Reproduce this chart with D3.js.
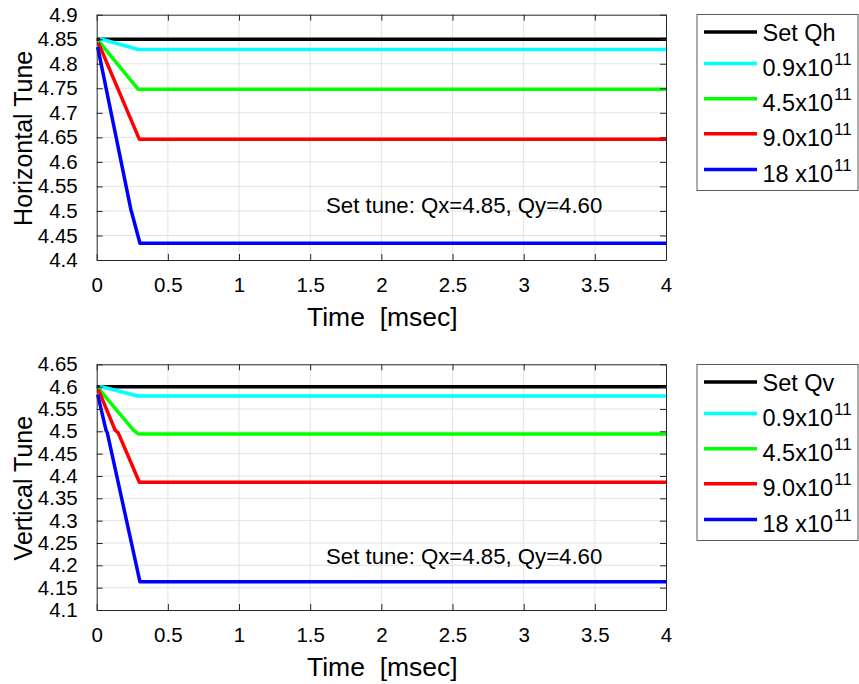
<!DOCTYPE html>
<html>
<head>
<meta charset="utf-8">
<script src="https://cdn.jsdelivr.net/npm/d3@7"></script>
<style>
  body { margin: 0; background: #fff; }
  svg { display: block; font-family: "Liberation Sans", Arial, sans-serif; }
</style>
</head>
<body>
<svg id="chart" width="859" height="684"></svg>
<script>
// ---------- data (vertices) ----------
const xTicks = [0, 0.5, 1, 1.5, 2, 2.5, 3, 3.5, 4];
const xTickLabels = ["0", "0.5", "1", "1.5", "2", "2.5", "3", "3.5", "4"];
const hTicks = [4.4, 4.45, 4.5, 4.55, 4.6, 4.65, 4.7, 4.75, 4.8, 4.85, 4.9];
const hTickLabels = ["4.4", "4.45", "4.5", "4.55", "4.6", "4.65", "4.7", "4.75", "4.8", "4.85", "4.9"];
const vTicks = [4.1, 4.15, 4.2, 4.25, 4.3, 4.35, 4.4, 4.45, 4.5, 4.55, 4.6, 4.65];
const vTickLabels = ["4.1", "4.15", "4.2", "4.25", "4.3", "4.35", "4.4", "4.45", "4.5", "4.55", "4.6", "4.65"];

const seriesColors = ["#000000", "#00ffff", "#00ff00", "#ff0000", "#0000ff"];
const legendMain = ["Set Q", "0.9x10", "4.5x10", "9.0x10", "18 x10"];
const legendSup = ["", "11", "11", "11", "11"];

// Horizontal tune: time [msec], tune
const hSetT = [0, 4];        const hSetQ = [4.85, 4.85];
const h09T = [0.023, 0.292, 4];  const h09Q = [4.851, 4.829, 4.829];
const h45T = [0.014, 0.292, 4];  const h45Q = [4.846, 4.748, 4.748];
const h90T = [0.011, 0.300, 4];  const h90Q = [4.843, 4.646, 4.646];
const h18T = [0.007, 0.240, 0.246, 0.304, 4];  const h18Q = [4.834, 4.503, 4.497, 4.434, 4.434];

// Vertical tune
const vSetT = [0, 4];        const vSetQ = [4.6, 4.6];
const v09T = [0.020, 0.290, 4];  const v09Q = [4.601, 4.579, 4.579];
const v45T = [0.012, 0.257, 0.292, 4];  const v45Q = [4.596, 4.503, 4.494, 4.494];
const v90T = [0.011, 0.129, 0.152, 0.300, 4];  const v90Q = [4.594, 4.503, 4.496, 4.386, 4.386];
const v18T = [0.007, 0.065, 0.075, 0.304, 4];  const v18Q = [4.582, 4.503, 4.496, 4.163, 4.163];

const annotation = "Set tune: Qx=4.85, Qy=4.60";

// ---------- drawing ----------
const svg = d3.select("#chart");
const axisColor = "#262626";
const gridColor = "#e3e3e3";

function panel(opts) {
  const { top, bottom, left, right, yDomain, yTicks, yTickLabels, series, ylabel, setName, legendTop } = opts;
  const x = d3.scaleLinear().domain([0, 4]).range([left, right]);
  const y = d3.scaleLinear().domain(yDomain).range([bottom, top]);
  const g = svg.append("g");

  // grid
  g.selectAll(".gx").data(xTicks.slice(1, -1)).join("line")
    .attr("x1", d => x(d)).attr("x2", d => x(d)).attr("y1", top).attr("y2", bottom)
    .attr("stroke", gridColor).attr("stroke-width", 1);
  g.selectAll(".gy").data(yTicks.slice(1, -1)).join("line")
    .attr("y1", d => y(d)).attr("y2", d => y(d)).attr("x1", left).attr("x2", right)
    .attr("stroke", gridColor).attr("stroke-width", 1);

  // series
  const line = d3.line().x(d => x(d[0])).y(d => y(d[1]));
  series.forEach((s, i) => {
    const pts = s.t.map((t, j) => [t, s.q[j]]);
    g.append("path").attr("d", line(pts)).attr("fill", "none")
      .attr("stroke", seriesColors[i]).attr("stroke-width", 3.5)
      .attr("stroke-linejoin", "round");
  });

  // axes
  const tickFmtX = (d, i) => xTickLabels[i];
  const tickFmtY = (d, i) => yTickLabels[i];
  const axB = g.append("g").attr("transform", `translate(0,${bottom})`)
    .call(d3.axisBottom(x).tickValues(xTicks).tickFormat(tickFmtX).tickSizeInner(-6).tickSizeOuter(0).tickPadding(17));
  const axT = g.append("g").attr("transform", `translate(0,${top})`)
    .call(d3.axisTop(x).tickValues(xTicks).tickFormat("").tickSizeInner(-6).tickSizeOuter(0));
  const axL = g.append("g").attr("transform", `translate(${left},0)`)
    .call(d3.axisLeft(y).tickValues(yTicks).tickFormat(tickFmtY).tickSizeInner(-6).tickSizeOuter(0).tickPadding(19));
  const axR = g.append("g").attr("transform", `translate(${right},0)`)
    .call(d3.axisRight(y).tickValues(yTicks).tickFormat("").tickSizeInner(-6).tickSizeOuter(0));
  [axB, axT, axL, axR].forEach(a => {
    a.select(".domain").attr("stroke", axisColor).attr("stroke-width", 1);
    a.selectAll(".tick line").attr("stroke", axisColor).attr("stroke-width", 1);
    a.selectAll(".tick text").attr("fill", "#000").attr("font-size", 20.5)
      .attr("font-family", "Liberation Sans, Arial, sans-serif");
  });
  axB.selectAll(".tick text").attr("dy", "0.71em");

  // labels
  g.append("text").attr("x", (left + right) / 2 + 1).attr("y", bottom + 66)
    .attr("text-anchor", "middle").attr("font-size", 26.5).attr("fill", "#000")
    .style("white-space", "pre").text("Time  [msec]");
  g.append("text").attr("transform", `translate(32,${(top + bottom) / 2 + 1}) rotate(-90)`)
    .attr("text-anchor", "middle").attr("font-size", 25).attr("fill", "#000").text(ylabel);

  // annotation
  g.append("text").attr("x", 326).attr("y", opts.annoY)
    .attr("font-size", 22.2).attr("fill", "#000").text(annotation);

  // legend
  const lg = svg.append("g");
  lg.append("rect").attr("x", 697).attr("y", legendTop).attr("width", 161).attr("height", 176)
    .attr("fill", "#fff").attr("stroke", "#5a5a5a").attr("stroke-width", 1);
  const entryOffsets = [17.5, 49, 84.3, 119.3, 155];
  legendMain.forEach((m, i) => {
    const ly = legendTop + entryOffsets[i];
    lg.append("line").attr("x1", 704).attr("x2", 757).attr("y1", ly).attr("y2", ly)
      .attr("stroke", seriesColors[i]).attr("stroke-width", 3.5);
    const t = lg.append("text").attr("x", 762.5).attr("y", ly + (legendSup[i] ? 12 : 9))
      .attr("font-size", 23.5).attr("fill", "#000");
    t.append("tspan").text(i === 0 ? m + setName : m);
    if (legendSup[i]) {
      t.append("tspan").attr("dy", -11).attr("dx", 1).attr("font-size", 17).text(legendSup[i]);
    }
  });
}

panel({
  top: 14.7, bottom: 260, left: 96.7, right: 666,
  yDomain: [4.4, 4.9], yTicks: hTicks, yTickLabels: hTickLabels,
  series: [{t: hSetT, q: hSetQ}, {t: h09T, q: h09Q}, {t: h45T, q: h45Q}, {t: h90T, q: h90Q}, {t: h18T, q: h18Q}],
  ylabel: "Horizontal Tune", setName: "h", legendTop: 14.5, annoY: 213
});
panel({
  top: 364.3, bottom: 610, left: 96.7, right: 666,
  yDomain: [4.1, 4.65], yTicks: vTicks, yTickLabels: vTickLabels,
  series: [{t: vSetT, q: vSetQ}, {t: v09T, q: v09Q}, {t: v45T, q: v45Q}, {t: v90T, q: v90Q}, {t: v18T, q: v18Q}],
  ylabel: "Vertical Tune", setName: "v", legendTop: 364.5, annoY: 564
});
</script>
</body>
</html>
